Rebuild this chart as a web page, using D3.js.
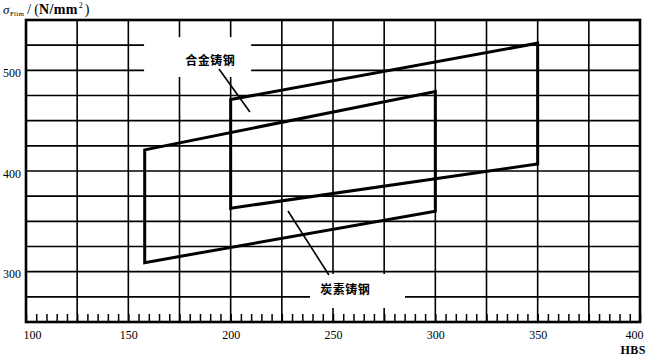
<!DOCTYPE html>
<html><head><meta charset="utf-8">
<script src="https://cdn.jsdelivr.net/npm/d3@7"></script>
<style>body{margin:0;background:#fff}svg{display:block}</style>
</head><body><svg id="c" width="650" height="358"></svg>
<script>
// ---- data ----
const xGrid = [100,125,150,175,200,225,250,275,300,325,350,375,400];
const yGrid = [250,275,300,325,350,375,400,425,450,475,500,525,550];
const xTickLabels = [100,150,200,250,300,350,400];
const yTickLabels = [300,400,500];
const xMinor = d3.range(100, 401, 5);
const alloyHBS   = [200, 350, 350, 200];
const alloySigma = [471, 527, 407, 363];
const carbonHBS   = [158, 300, 300, 158];
const carbonSigma = [421, 479, 360, 309];
const seriesNames = ["合金铸钢", "炭素铸钢"];
const labelHBS   = [190, 256];
const labelSigma = [511, 283];
const leaderHBS   = [[194.3, 209.4], [228, 248]];
const leaderSigma = [[501.3, 458.6], [360.3, 296.7]];
const boxHBS   = [[157.7, 210], [238.8, 285.2]];
const boxSigma = [[533, 493.4], [297.7, 263.9]];

// ---- layout ----
(function(){
const svg = d3.select("#c");
const x = d3.scaleLinear().domain([100, 400]).range([26, 640]);
const y = d3.scaleLinear().domain([250, 550]).range([322, 20]);
const pTop = y(550), pBottom = y(250), pLeft = x(100), pRight = x(400);

// grid
const g = svg.append("g");
g.selectAll("line.vx").data(xGrid).join("line")
  .attr("x1", d => x(d)).attr("x2", d => x(d))
  .attr("y1", pTop).attr("y2", pBottom)
  .attr("stroke", "#000").attr("stroke-width", 1.6);
g.selectAll("line.hy").data(yGrid).join("line")
  .attr("x1", pLeft).attr("x2", pRight)
  .attr("y1", d => y(d)).attr("y2", d => y(d))
  .attr("stroke", "#000").attr("stroke-width", 1.6);

// minor ticks via axis
const minorAxis = d3.axisBottom(x).tickValues(xMinor).tickSizeInner(-8).tickSizeOuter(0).tickFormat("");
const ma = svg.append("g").attr("transform", `translate(0,${pBottom})`).call(minorAxis);
ma.select(".domain").remove();
ma.selectAll(".tick line").attr("stroke", "#000").attr("stroke-width", 1.5);

// label boxes (white) covering the grid
boxHBS.forEach((bx, i) => {
  svg.append("rect")
    .attr("x", x(bx[0])).attr("y", y(boxSigma[i][0]))
    .attr("width", x(bx[1]) - x(bx[0]))
    .attr("height", y(boxSigma[i][1]) - y(boxSigma[i][0]))
    .attr("fill", "#fff");
});

// frame
svg.append("rect").attr("x", pLeft).attr("y", pTop)
  .attr("width", pRight - pLeft).attr("height", pBottom - pTop)
  .attr("fill", "none").attr("stroke", "#000").attr("stroke-width", 2.6);

// polygons
const line = d3.line().x(d => x(d[0])).y(d => y(d[1]));
const alloyPts = alloyHBS.map((h, i) => [h, alloySigma[i]]);
const carbonPts = carbonHBS.map((h, i) => [h, carbonSigma[i]]);
[alloyPts, carbonPts].forEach(pts => {
  svg.append("path").attr("d", line(pts) + "Z")
    .attr("fill", "none").attr("stroke", "#000").attr("stroke-width", 3)
    .attr("stroke-linejoin", "miter");
});

// leader lines
leaderHBS.forEach((lh, i) => {
  svg.append("line")
    .attr("x1", x(lh[0])).attr("y1", y(leaderSigma[i][0]))
    .attr("x2", x(lh[1])).attr("y2", y(leaderSigma[i][1]))
    .attr("stroke", "#000").attr("stroke-width", 1.6);
});

// series labels
seriesNames.forEach((s, i) => {
  svg.append("text").attr("x", x(labelHBS[i])).attr("y", y(labelSigma[i]))
    .attr("text-anchor", "middle").attr("dominant-baseline", "central")
    .attr("font-family", "'Noto Sans CJK SC', sans-serif")
    .attr("font-weight", "bold").attr("font-size", 12).attr("fill", "#000")
    .attr("letter-spacing", 0.5)
    .text(s);
});

// x axis labels
const xAxis = d3.axisBottom(x).tickValues(xTickLabels).tickSize(0).tickPadding(8)
  .tickFormat(d3.format("d"));
const xa = svg.append("g").attr("transform", `translate(0,${pBottom})`).call(xAxis);
xa.select(".domain").remove();
xa.selectAll("text").attr("font-family", "'Liberation Serif', serif").attr("font-size", 12)
  .attr("fill", "#000")
  .attr("dx", d => d === 100 ? 6 : d === 400 ? -6 : 0);

// y axis labels
const yAxis = d3.axisLeft(y).tickValues(yTickLabels).tickSize(0).tickPadding(5)
  .tickFormat(d3.format("d"));
const ya = svg.append("g").attr("transform", `translate(${pLeft},0)`).call(yAxis);
ya.select(".domain").remove();
ya.selectAll("text").attr("font-family", "'Liberation Serif', serif").attr("font-size", 12)
  .attr("fill", "#000").attr("dy", "0.5em");

// y title
const t = svg.append("text").attr("x", 3).attr("y", 14)
  .attr("font-family", "'Liberation Serif', serif").attr("fill", "#000");
t.append("tspan").attr("font-style", "italic").attr("font-size", 13).text("σ");
t.append("tspan").attr("font-size", 7).attr("dy", 2).attr("dx", 0.5).attr("letter-spacing", 0.3).text("Flim");
t.append("tspan").attr("font-size", 14).attr("dy", -2).attr("dx", 3).text("/");
t.append("tspan").attr("font-size", 14).attr("dx", 3).text("(");
t.append("tspan").attr("font-size", 14).attr("font-weight", "bold").attr("letter-spacing", 0.4).text("N/mm");
t.append("tspan").attr("font-size", 8).attr("dy", -6).attr("dx", 1).text("2");
t.append("tspan").attr("font-size", 14).attr("dy", 6).attr("dx", 2).text(")");

// x title
svg.append("text").attr("x", 646).attr("y", 354).attr("text-anchor", "end")
  .attr("font-family", "'Liberation Serif', serif").attr("font-weight", "bold")
  .attr("font-size", 12).attr("fill", "#000").attr("letter-spacing", 0.5).text("HBS");
})();
</script></body></html>
